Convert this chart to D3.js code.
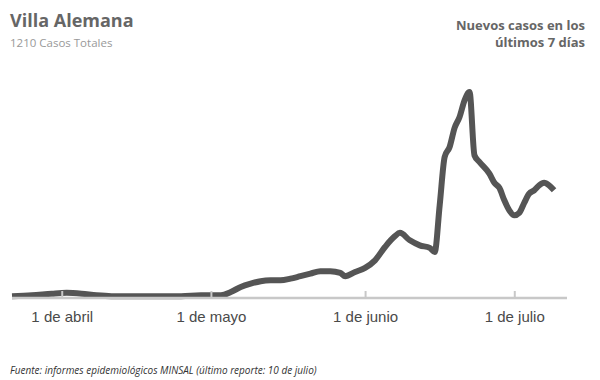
<!DOCTYPE html>
<html><head><meta charset="utf-8">
<script src="https://cdn.jsdelivr.net/npm/d3@7"></script>
<style>body{margin:0;background:#fff}svg{display:block}</style>
</head><body>
<script>
const title = "Villa Alemana";
const subtitle = "1210 Casos Totales";
const legendLines = ["Nuevos casos en los", "últimos 7 días"];
const source = "Fuente: informes epidemiológicos MINSAL (último reporte: 10 de julio)";

const dates = ["2020-03-22","2020-03-26","2020-03-30","2020-04-02","2020-04-05","2020-04-08","2020-04-11","2020-04-15","2020-04-20","2020-04-25","2020-04-29","2020-05-03","2020-05-05","2020-05-07","2020-05-09","2020-05-11","2020-05-13","2020-05-15","2020-05-17","2020-05-19","2020-05-21","2020-05-23","2020-05-25","2020-05-27","2020-05-28","2020-05-30","2020-06-01","2020-06-03","2020-06-05","2020-06-07","2020-06-08","2020-06-10","2020-06-12","2020-06-14","2020-06-15","2020-06-16","2020-06-17","2020-06-18","2020-06-19","2020-06-20","2020-06-21","2020-06-22","2020-06-23","2020-06-24","2020-06-26","2020-06-27","2020-06-28","2020-06-29","2020-06-30","2020-07-01","2020-07-02","2020-07-03","2020-07-04","2020-07-05","2020-07-06","2020-07-07","2020-07-08","2020-07-09"];
const cases7d = [1,2,4,5,4,2,1,1,1,1,2,2,6,12,16,19,20,20,22,25,28,31,31,29,25,30,35,44,60,73,77,68,62,59,54,110,168,180,203,216,236,246,170,162,148,137,131,116,104,98,101,113,124,128,134,137,134,128];

const tickDates = ["2020-04-01","2020-05-01","2020-06-01","2020-07-01"];
const tickLabels = ["1 de abril","1 de mayo","1 de junio","1 de julio"];

const W = 600, H = 380;
const parse = d3.timeParse("%Y-%m-%d");
const data = dates.map((d,i)=>({date:parse(d), v:cases7d[i]}));

const svg = d3.select("body").append("svg").attr("width",W).attr("height",H);

const x = d3.scaleTime()
  .domain([parse("2020-03-22"), parse("2020-07-11")])
  .range([12, 564]);
const y = d3.scaleLinear().domain([0, 246]).range([297, 92]);

// line
svg.append("path")
  .datum(data)
  .attr("fill","none")
  .attr("stroke","#555")
  .attr("stroke-width",6)
  .attr("stroke-linejoin","round")
  .attr("d", d3.line().x(d=>x(d.date)).y(d=>y(d.v)).curve(d3.curveMonotoneX));

// axis
const axisG = svg.append("g").attr("transform","translate(0,298)");
const axis = d3.axisBottom(x)
  .tickValues(tickDates.map(parse))
  .tickFormat((d,i)=>tickLabels[i])
  .tickSize(-7)
  .tickPadding(0);
axisG.call(axis);
axisG.select(".domain").attr("stroke","#c8c8c8").attr("stroke-width",2.5).attr("d","M12,0H567");
axisG.selectAll(".tick line").attr("stroke","#c8c8c8").attr("stroke-width",2);
axisG.selectAll(".tick text")
  .attr("y",24).attr("dy",0)
  .attr("font-family","'Liberation Sans', Arial, sans-serif")
  .attr("font-size",15).attr("fill","#4a4a4a");

// titles
svg.append("text").attr("x",10).attr("y",27)
  .attr("font-family","'Open Sans', sans-serif").attr("font-weight",700)
  .attr("font-size",18).attr("fill","#666").text(title);
svg.append("text").attr("x",10).attr("y",47)
  .attr("font-family","'Open Sans', sans-serif")
  .attr("font-size",11.5).attr("fill","#999").text(subtitle);
legendLines.forEach((t,i)=>{
  svg.append("text").attr("x",585).attr("y",30+i*17)
    .attr("text-anchor","end")
    .attr("font-family","'Open Sans', sans-serif").attr("font-weight",700)
    .attr("font-size",13).attr("fill","#666").text(t);
});
svg.append("text").attr("x",10).attr("y",374)
  .attr("font-family","'Open Sans', sans-serif").attr("font-style","italic")
  .attr("font-size",10).attr("fill","#333").text(source);
</script>
</body></html>
